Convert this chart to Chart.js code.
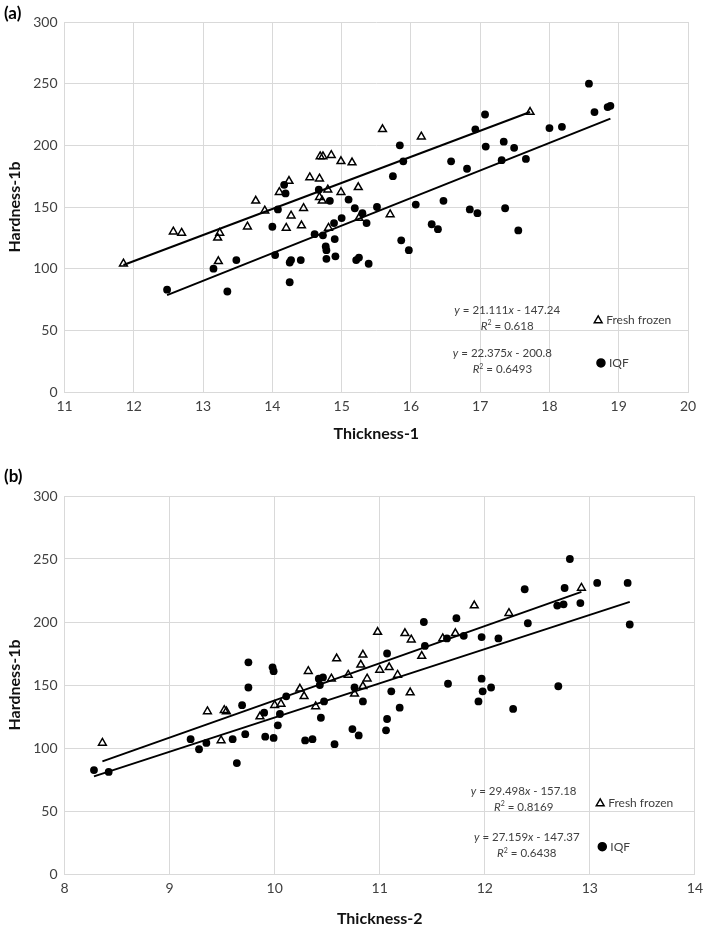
<!DOCTYPE html>
<html>
<head>
<meta charset="utf-8">
<script src="https://cdn.jsdelivr.net/npm/chart.js@4/dist/chart.umd.min.js"></script>
<style>
  body { margin: 0; background: #fff; width: 709px; height: 929px; position: relative; overflow: hidden; }
  .box { position: absolute; left: 0; width: 709px; }
  #boxA { top: 0; height: 460px; }
  #boxB { top: 460px; height: 469px; }
</style>
</head>
<body>
<div class="box" id="boxA"><canvas id="chartA"></canvas></div>
<div class="box" id="boxB"><canvas id="chartB"></canvas></div>
<script>
// Data: [thickness, hardness]
// (a) Thickness-1
const freshA = [
  [11.85,104],[12.57,130],[12.69,129],[13.22,106],[13.21,125],[13.24,129],[13.64,134],[13.76,155],
  [13.89,147],[14.10,162],[14.24,171],[14.20,133],[14.27,143],[14.42,135],[14.45,149],[14.54,174],
  [14.68,173],[14.69,191],[14.73,191],[14.68,158],[14.72,155],[14.80,164],[14.81,133],[14.85,192],
  [14.99,187],[14.99,162],[15.15,186],[15.24,166],[15.25,141],[15.59,213],[15.70,144],[16.15,207],
  [17.72,227]
];
const iqfA = [
  [12.48,83],[13.15,100],[13.35,81.5],[13.48,107],[14.00,134],[14.04,111],[14.08,148],[14.17,168],
  [14.19,161],[14.25,89],[14.25,105],[14.27,107],[14.41,107],[14.61,128],[14.67,164],[14.73,127],
  [14.77,118],[14.78,115],[14.78,108],[14.83,155],[14.89,137],[14.90,124],[14.91,110],[15.00,141],
  [15.10,156],[15.19,149],[15.21,107],[15.25,109],[15.30,145],[15.36,137],[15.39,104],[15.51,150],
  [15.74,175],[15.84,200],[15.86,123],[15.89,187],[15.97,115],[16.07,152],[16.30,136],[16.39,132],
  [16.47,155],[16.58,187],[16.81,181],[16.85,148],[16.93,213],[16.96,145],[17.07,225],[17.08,199],
  [17.31,188],[17.34,203],[17.36,149],[17.49,198],[17.55,131],[17.66,189],[18.00,214],[18.18,215],
  [18.57,250],[18.65,227],[18.84,231],[18.88,232]
];
const trendFreshA = [[11.85,103],[17.72,227]];
const trendIqfA = [[12.48,78.5],[18.88,221.6]];

// (b) Thickness-2
const freshB = [
  [8.36,104],[9.36,129],[9.52,130],[9.54,129],[9.49,106],[9.86,125],[10.00,134],[10.06,135],
  [10.24,147],[10.28,141],[10.32,161],[10.39,133],[10.54,155],[10.59,171],[10.70,158],[10.76,143],
  [10.82,166],[10.84,174],[10.84,149],[10.88,155],[10.98,192],[11.00,162],[11.09,164],[11.17,158],
  [11.24,191],[11.29,144],[11.30,186],[11.40,173],[11.60,187],[11.72,191],[11.90,213],[12.23,207],
  [12.92,227]
];
const iqfB = [
  [8.28,82.5],[8.42,81],[9.20,107],[9.28,99],[9.35,104],[9.60,107],[9.64,88],[9.69,134],
  [9.72,111],[9.75,168],[9.75,148],[9.90,128],[9.91,109],[9.98,164],[9.99,161],[9.99,108],
  [10.03,118],[10.05,127],[10.11,141],[10.29,106],[10.36,107],[10.42,155],[10.43,150],[10.44,124],
  [10.46,156],[10.47,137],[10.57,103],[10.74,115],[10.76,148],[10.80,110],[10.84,137],[11.06,114],
  [11.07,123],[11.07,175],[11.11,145],[11.19,132],[11.42,200],[11.43,181],[11.64,187],[11.65,151],
  [11.73,203],[11.80,189],[11.94,137],[11.97,188],[11.97,155],[11.98,145],[12.06,148],[12.13,187],
  [12.27,131],[12.38,226],[12.41,199],[12.69,213],[12.70,149],[12.75,214],[12.76,227],[12.81,250],
  [12.91,215],[13.07,231],[13.36,231],[13.38,198]
];
const trendFreshB = [[8.36,89.4],[12.92,223.9]];
const trendIqfB = [[8.28,77.5],[13.38,216]];

// equation labels: [slope, intercept, r2]
const eqFreshA = ['21.111', '147.24', '0.618'];
const eqIqfA   = ['22.375', '200.8', '0.6493'];
const eqFreshB = ['29.498', '157.18', '0.8169'];
const eqIqfB   = ['27.159', '147.37', '0.6438'];

const xTicksA = [11, 20];
const xTicksB = [8, 14];
const yTicks = [0, 300, 50];

const TXT = '#404040';
const GRID = '#d9d9d9';
const FONT = 'Lato, "Open Sans", sans-serif';

const toXY = arr => arr.map(p => ({ x: p[0], y: p[1] }));

// draw a run of text pieces, centred on cx
function drawRich(ctx, parts, cx, cy, size) {
  const fontOf = p => (p.i ? 'italic ' : '') + (p.sup ? Math.round(size * 0.65) : size) + 'px ' + FONT;
  let w = 0;
  parts.forEach(p => { ctx.font = fontOf(p); w += ctx.measureText(p.t).width; });
  let x = cx - w / 2;
  ctx.textBaseline = 'middle';
  ctx.textAlign = 'left';
  parts.forEach(p => {
    ctx.font = fontOf(p);
    ctx.fillText(p.t, x, p.sup ? cy - size * 0.3 : cy);
    x += ctx.measureText(p.t).width;
  });
}

function eqParts(e) {
  return [
    [{t:'y', i:true}, {t:' = ' + e[0]}, {t:'x', i:true}, {t:' - ' + e[1]}],
    [{t:'R', i:true}, {t:'2', sup:true}, {t:' = ' + e[2]}]
  ];
}

const extras = {
  id: 'extras',
  afterDraw(chart, args, o) {
    const ctx = chart.ctx;
    const xs = chart.scales.x, ys = chart.scales.y;
    ctx.save();
    // panel letter
    ctx.fillStyle = '#000';
    ctx.font = 'bold 17px ' + FONT;
    ctx.textBaseline = 'middle';
    ctx.textAlign = 'left';
    ctx.fillText(o.label, 4, o.labelY);
    // equations
    ctx.fillStyle = TXT;
    o.notes.forEach(n => {
      const lines = eqParts(n.eq);
      drawRich(ctx, lines[0], xs.getPixelForValue(n.x), ys.getPixelForValue(n.y), 11.5);
      drawRich(ctx, lines[1], xs.getPixelForValue(n.x), ys.getPixelForValue(n.y) + 16, 11.5);
    });
    // legend entries inside the plot
    o.legend.forEach(l => {
      const px = xs.getPixelForValue(l.x), py = ys.getPixelForValue(l.y);
      ctx.strokeStyle = '#000';
      ctx.fillStyle = l.style === 'circle' ? '#000' : 'rgba(0,0,0,0)';
      ctx.lineWidth = 1.5;
      Chart.helpers.drawPoint(ctx, { pointStyle: l.style, radius: l.style === 'circle' ? 4 : 4.5, borderWidth: 1.5 }, px + 3, py);
      ctx.fillStyle = TXT;
      ctx.font = '12px ' + FONT;
      ctx.textBaseline = 'middle';
      ctx.textAlign = 'left';
      ctx.fillText(l.text, px + 11, py);
    });
    ctx.restore();
  }
};

function makeChart(id, d) {
  return new Chart(document.getElementById(id), {
    type: 'scatter',
    data: {
      datasets: [
        { type: 'line', data: toXY(d.trendFresh), borderColor: '#000', borderWidth: 2, pointRadius: 0, fill: false },
        { type: 'line', data: toXY(d.trendIqf), borderColor: '#000', borderWidth: 2, pointRadius: 0, fill: false },
        { data: toXY(d.fresh), pointStyle: 'triangle', pointRadius: 4.5, pointBorderWidth: 1.5,
          borderColor: '#000', backgroundColor: 'rgba(255,255,255,0)' },
        { data: toXY(d.iqf), pointStyle: 'circle', pointRadius: 3.9, pointBorderWidth: 0,
          borderColor: '#000', backgroundColor: '#000' }
      ]
    },
    options: {
      responsive: true,
      maintainAspectRatio: false,
      animation: false,
      layout: { padding: d.pad },
      plugins: {
        legend: { display: false },
        tooltip: { enabled: false },
        extras: { label: d.label, labelY: d.labelY, notes: d.notes, legend: d.legend }
      },
      scales: {
        x: {
          type: 'linear', min: d.xTicks[0], max: d.xTicks[1],
          ticks: { stepSize: 1, color: TXT, font: { family: FONT, size: 14 }, padding: 6 },
          grid: { color: GRID, drawTicks: false },
          border: { color: GRID },
          title: { display: true, text: d.xTitle, color: '#111', font: { family: FONT, size: 16, weight: 'bold' }, padding: d.titlePad }
        },
        y: {
          min: yTicks[0], max: yTicks[1],
          ticks: { stepSize: yTicks[2], color: TXT, font: { family: FONT, size: 14 }, padding: 7 },
          grid: { color: GRID, drawTicks: false },
          border: { color: GRID },
          title: { display: true, text: 'Hardness-1b', color: '#111', font: { family: FONT, size: 16, weight: 'bold' }, padding: { top: 0, bottom: 2 } }
        }
      }
    },
    plugins: [extras]
  });
}

makeChart('chartA', {
  fresh: freshA, iqf: iqfA, trendFresh: trendFreshA, trendIqf: trendIqfA,
  xTicks: xTicksA, xTitle: 'Thickness-1', label: '(a)', labelY: 14,
  pad: { left: 5, right: 21, top: 22, bottom: 14 }, titlePad: { top: 3, bottom: 3 },
  notes: [ { eq: eqFreshA, x: 17.39, y: 66 }, { eq: eqIqfA, x: 17.32, y: 31 } ],
  legend: [ { style: 'triangle', text: 'Fresh frozen', x: 18.66, y: 58 }, { style: 'circle', text: 'IQF', x: 18.70, y: 23.6 } ]
});

makeChart('chartB', {
  fresh: freshB, iqf: iqfB, trendFresh: trendFreshB, trendIqf: trendIqfB,
  xTicks: xTicksB, xTitle: 'Thickness-2', label: '(b)', labelY: 17,
  pad: { left: 5, right: 9, top: 36, bottom: 1 }, titlePad: { top: 6, bottom: 0 },
  notes: [ { eq: eqFreshB, x: 12.37, y: 66 }, { eq: eqIqfB, x: 12.40, y: 28.8 } ],
  legend: [ { style: 'triangle', text: 'Fresh frozen', x: 13.07, y: 56 }, { style: 'circle', text: 'IQF', x: 13.09, y: 21.7 } ]
});
</script>
</body>
</html>
